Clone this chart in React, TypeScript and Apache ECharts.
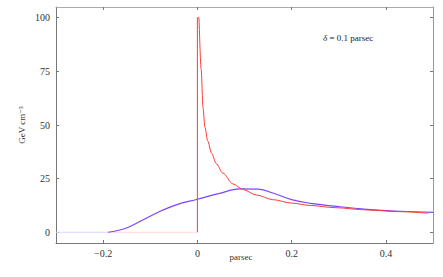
import React, { useEffect, useRef } from "react";
import * as echarts from "echarts";

const xTicks = [-0.2, 0, 0.2, 0.4];
const yTicks = [0, 25, 50, 75, 100];

// red profile (sharp spike at 0)
const redZero: [number, number][] = [[-0.19, 0], [0, 0]];
const redSpike: [number, number][] = [[0, 0], [0, 100], [0.0035, 100]];
const redCurve: [number, number][] = [
  [0.0035, 100], [0.008, 76], [0.012, 58], [0.016, 49], [0.022, 42.5],
  [0.03, 37], [0.04, 32], [0.054, 27.6], [0.075, 22.6], [0.096, 20],
  [0.125, 17.4], [0.16, 15.2], [0.2, 13.6], [0.24, 12.5], [0.29, 11.5],
  [0.36, 10.4], [0.43, 9.6], [0.49, 8.9],
];

// blue (smoothed) profile
const blueZero: [number, number][] = [[-0.3, 0], [-0.19, 0]];
const blueCurve: [number, number][] = [
  [-0.19, 0], [-0.152, 1.9], [-0.116, 5.7], [-0.081, 9.6], [-0.045, 12.8],
  [0, 15.4], [0.045, 18], [0.09, 20.2], [0.13, 20.1], [0.16, 18.3],
  [0.2, 15.2], [0.24, 13.5], [0.29, 12.2], [0.36, 10.7], [0.43, 9.8], [0.5, 9.3],
];

const font = "'Liberation Serif', 'DejaVu Serif', serif";
const axisGray = "#777";

const fmt = (v: number) => (v < 0 ? "\u2212" + Math.abs(v) : String(v));

export default function App() {
  const ref = useRef<HTMLDivElement>(null);
  useEffect(() => {
    document.body.style.margin = "0";
    const chart = echarts.init(ref.current!, null, { renderer: "svg" });
    const baseX = {
      type: "value" as const,
      min: -0.3,
      max: 0.5,
      splitLine: { show: false },
      axisLine: { show: true, onZero: false, lineStyle: { color: axisGray, width: 1 } },
      axisTick: { show: true, inside: true, length: 3, customValues: xTicks, lineStyle: { color: axisGray } },
    };
    const baseY = {
      type: "value" as const,
      min: -5,
      max: 105,
      splitLine: { show: false },
      axisLine: { show: true, onZero: false, lineStyle: { color: axisGray, width: 1 } },
      axisTick: { show: true, inside: true, length: 3, customValues: yTicks, lineStyle: { color: axisGray } },
    };
    chart.setOption({
      animation: false,
      grid: { left: 56, right: 10, top: 7, bottom: 34 },
      xAxis: [
        {
          ...baseX,
          position: "bottom",
          axisLabel: { customValues: xTicks, formatter: fmt, fontFamily: font, fontSize: 10, color: "#333", margin: 5 },
        },
        { ...baseX, position: "top", axisLabel: { show: false }, axisLine: { show: true, onZero: false, lineStyle: { color: "#aaa" } } },
      ],
      yAxis: [
        {
          ...baseY,
          position: "left",
          axisLabel: { customValues: yTicks, formatter: fmt, fontFamily: font, fontSize: 10, color: "#333", margin: 6 },
        },
        { ...baseY, position: "right", axisLabel: { show: false }, axisLine: { show: true, onZero: false, lineStyle: { color: "#999" } } },
      ],
      series: [
        { type: "line", data: blueZero, showSymbol: false, lineStyle: { color: "#ddd6ff", width: 1 } },
        { type: "line", data: redZero, showSymbol: false, lineStyle: { color: "#ffd8d8", width: 1 } },
        { type: "line", data: blueCurve, smooth: 0.4, showSymbol: false, lineStyle: { color: "#7b45ff", width: 1.2 } },
        { type: "line", data: redSpike, smooth: false, showSymbol: false, lineStyle: { color: "#ff3b3b", width: 1 } },
        { type: "line", data: redCurve, smooth: 0.3, smoothMonotone: "x", showSymbol: false, lineStyle: { color: "#ff3b3b", width: 1 } },
      ],
      graphic: [
        {
          type: "text",
          left: 323,
          top: 33,
          style: {
            text: "{i|\u03B4} = 0.1 parsec",
            font: `9px ${font}`,
            fill: "#222",
            rich: { i: { fontStyle: "italic", fontFamily: font, fontSize: 9 } },
          },
        },
        {
          type: "text",
          x: 241,
          y: 257,
          style: { text: "parsec", font: `9px ${font}`, fill: "#333", align: "center", verticalAlign: "middle" },
        },
        {
          type: "text",
          x: 22,
          y: 125,
          rotation: Math.PI / 2,
          style: { text: "GeV cm\u207B\u00B3", font: `9px ${font}`, fill: "#333", align: "center", verticalAlign: "middle" },
        },
      ],
    });
    return () => chart.dispose();
  }, []);
  return <div ref={ref} style={{ width: 443, height: 277 }} />;
}
